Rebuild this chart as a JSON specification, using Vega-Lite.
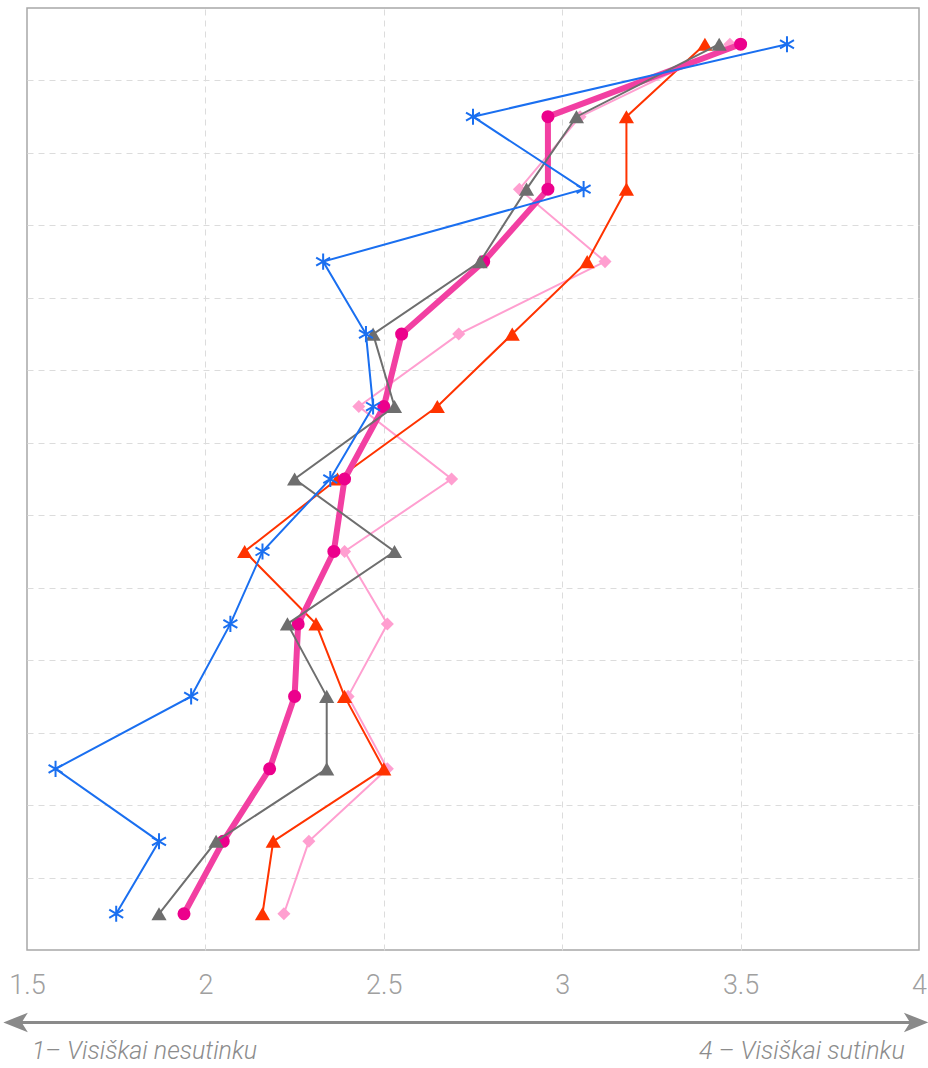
{
  "$schema": "https://vega.github.io/schema/vega-lite/v6.json",
  "width": 892,
  "height": 942,
  "autosize": "none",
  "padding": {"left": 27, "top": 8, "right": 9, "bottom": 118},
  "background": "white",
  "config": {"view": {"stroke": "#a8a8a8", "strokeWidth": 1.5}, "font": "Roboto"},
  "layer": [
    {
      "data": {"values": [
        {"series": "Vidurkis", "item": 1, "value": 3.50},
        {"series": "Vidurkis", "item": 2, "value": 2.96},
        {"series": "Vidurkis", "item": 3, "value": 2.96},
        {"series": "Vidurkis", "item": 4, "value": 2.78},
        {"series": "Vidurkis", "item": 5, "value": 2.55},
        {"series": "Vidurkis", "item": 6, "value": 2.50},
        {"series": "Vidurkis", "item": 7, "value": 2.39},
        {"series": "Vidurkis", "item": 8, "value": 2.36},
        {"series": "Vidurkis", "item": 9, "value": 2.26},
        {"series": "Vidurkis", "item": 10, "value": 2.25},
        {"series": "Vidurkis", "item": 11, "value": 2.18},
        {"series": "Vidurkis", "item": 12, "value": 2.05},
        {"series": "Vidurkis", "item": 13, "value": 1.94},
        {"series": "A", "item": 1, "value": 3.63},
        {"series": "A", "item": 2, "value": 2.75},
        {"series": "A", "item": 3, "value": 3.06},
        {"series": "A", "item": 4, "value": 2.33},
        {"series": "A", "item": 5, "value": 2.45},
        {"series": "A", "item": 6, "value": 2.47},
        {"series": "A", "item": 7, "value": 2.35},
        {"series": "A", "item": 8, "value": 2.16},
        {"series": "A", "item": 9, "value": 2.07},
        {"series": "A", "item": 10, "value": 1.96},
        {"series": "A", "item": 11, "value": 1.58},
        {"series": "A", "item": 12, "value": 1.87},
        {"series": "A", "item": 13, "value": 1.75},
        {"series": "B", "item": 1, "value": 3.44},
        {"series": "B", "item": 2, "value": 3.04},
        {"series": "B", "item": 3, "value": 2.90},
        {"series": "B", "item": 4, "value": 2.77},
        {"series": "B", "item": 5, "value": 2.47},
        {"series": "B", "item": 6, "value": 2.53},
        {"series": "B", "item": 7, "value": 2.25},
        {"series": "B", "item": 8, "value": 2.53},
        {"series": "B", "item": 9, "value": 2.23},
        {"series": "B", "item": 10, "value": 2.34},
        {"series": "B", "item": 11, "value": 2.34},
        {"series": "B", "item": 12, "value": 2.03},
        {"series": "B", "item": 13, "value": 1.87},
        {"series": "C", "item": 1, "value": 3.40},
        {"series": "C", "item": 2, "value": 3.18},
        {"series": "C", "item": 3, "value": 3.18},
        {"series": "C", "item": 4, "value": 3.07},
        {"series": "C", "item": 5, "value": 2.86},
        {"series": "C", "item": 6, "value": 2.65},
        {"series": "C", "item": 7, "value": 2.37},
        {"series": "C", "item": 8, "value": 2.11},
        {"series": "C", "item": 9, "value": 2.31},
        {"series": "C", "item": 10, "value": 2.39},
        {"series": "C", "item": 11, "value": 2.50},
        {"series": "C", "item": 12, "value": 2.19},
        {"series": "C", "item": 13, "value": 2.16},
        {"series": "D", "item": 1, "value": 3.47},
        {"series": "D", "item": 2, "value": 3.05},
        {"series": "D", "item": 3, "value": 2.88},
        {"series": "D", "item": 4, "value": 3.12},
        {"series": "D", "item": 5, "value": 2.71},
        {"series": "D", "item": 6, "value": 2.43},
        {"series": "D", "item": 7, "value": 2.69},
        {"series": "D", "item": 8, "value": 2.39},
        {"series": "D", "item": 9, "value": 2.51},
        {"series": "D", "item": 10, "value": 2.40},
        {"series": "D", "item": 11, "value": 2.51},
        {"series": "D", "item": 12, "value": 2.29},
        {"series": "D", "item": 13, "value": 2.22}
      ]},
      "encoding": {
        "x": {
          "field": "value", "type": "quantitative",
          "scale": {"domain": [1.5, 4], "nice": false, "zero": false},
          "axis": {
            "values": [1.5, 2, 2.5, 3, 3.5, 4], "format": "~g",
            "title": null, "domain": false, "ticks": false,
            "grid": true, "gridDash": [6, 5], "gridColor": "#dcdcdc",
            "gridOpacity": {"condition": {"test": "datum.value == 1.5 || datum.value == 4", "value": 0}, "value": 1},
            "labelPadding": 22, "labelFontSize": 27, "labelColor": "#a0a0a0",
            "labelFont": "Roboto", "labelFontWeight": 300, "labelFlush": false
          }
        },
        "y": {
          "field": "item", "type": "quantitative",
          "scale": {"domain": [0.5, 13.5], "reverse": true, "nice": false, "zero": false},
          "axis": {
            "values": [1.5, 2.5, 3.5, 4.5, 5.5, 6.5, 7.5, 8.5, 9.5, 10.5, 11.5, 12.5],
            "title": null, "labels": false, "ticks": false, "domain": false,
            "grid": true, "gridDash": [6, 5], "gridColor": "#dcdcdc"
          }
        },
        "order": {"field": "item", "type": "quantitative"}
      },
      "layer": [
        {
          "transform": [{"filter": "datum.series == 'D'"}],
          "mark": {"type": "line", "color": "#ff9fd0", "strokeWidth": 2,
                   "point": {"shape": "diamond", "size": 170, "filled": true, "color": "#ff9fd0", "opacity": 1}}
        },
        {
          "transform": [{"filter": "datum.series == 'C'"}],
          "mark": {"type": "line", "color": "#ff3300", "strokeWidth": 2,
                   "point": {"shape": "triangle-up", "size": 230, "filled": true, "color": "#ff3300", "opacity": 1}}
        },
        {
          "transform": [{"filter": "datum.series == 'Vidurkis'"}],
          "mark": {"type": "line", "color": "#f23fa2", "strokeWidth": 6,
                   "point": {"shape": "circle", "size": 170, "filled": true, "color": "#ec008c", "opacity": 1}}
        },
        {
          "transform": [{"filter": "datum.series == 'B'"}],
          "mark": {"type": "line", "color": "#6e6e6e", "strokeWidth": 2,
                   "point": {"shape": "triangle-up", "size": 230, "filled": true, "color": "#6e6e6e", "opacity": 1}}
        },
        {
          "transform": [{"filter": "datum.series == 'A'"}],
          "mark": {"type": "line", "color": "#1a6ff0", "strokeWidth": 2}
        },
        {
          "transform": [{"filter": "datum.series == 'A'"}],
          "mark": {"type": "point", "shape": "M0,-1L0,1M-0.866,-0.5L0.866,0.5M-0.866,0.5L0.866,-0.5",
                   "size": 260, "filled": false, "stroke": "#1a6ff0", "strokeWidth": 2, "opacity": 1}
        }
      ]
    },
    {
      "data": {"values": [{"value": 1.47, "value2": 3.99, "item": 14.5}]},
      "mark": {"type": "rule", "color": "#8a8a8a", "strokeWidth": 3},
      "encoding": {
        "x": {"field": "value", "type": "quantitative", "title": null},
        "x2": {"field": "value2"},
        "y": {"field": "item", "type": "quantitative", "title": null}
      }
    },
    {
      "data": {"values": [{"value": 1.468, "item": 14.5}]},
      "mark": {"type": "point", "shape": "M-1,0L1,-0.8L0.5,0L1,0.8Z", "size": 600, "filled": true, "color": "#8a8a8a", "opacity": 1},
      "encoding": {
        "x": {"field": "value", "type": "quantitative", "title": null},
        "y": {"field": "item", "type": "quantitative", "title": null}
      }
    },
    {
      "data": {"values": [{"value": 3.992, "item": 14.5}]},
      "mark": {"type": "point", "shape": "M1,0L-1,-0.8L-0.5,0L-1,0.8Z", "size": 600, "filled": true, "color": "#8a8a8a", "opacity": 1},
      "encoding": {
        "x": {"field": "value", "type": "quantitative", "title": null},
        "y": {"field": "item", "type": "quantitative", "title": null}
      }
    },
    {
      "data": {"values": [{"value": 1.513, "item": 14.9, "label": "1– Visiškai nesutinku"}]},
      "mark": {"type": "text", "align": "left", "baseline": "middle", "fontSize": 25, "fontStyle": "italic", "fontWeight": 300, "font": "Roboto", "color": "#8c8c8c"},
      "encoding": {
        "x": {"field": "value", "type": "quantitative", "title": null},
        "y": {"field": "item", "type": "quantitative", "title": null},
        "text": {"field": "label"}
      }
    },
    {
      "data": {"values": [{"value": 3.96, "item": 14.9, "label": "4 – Visiškai sutinku"}]},
      "mark": {"type": "text", "align": "right", "baseline": "middle", "fontSize": 25, "fontStyle": "italic", "fontWeight": 300, "font": "Roboto", "color": "#8c8c8c"},
      "encoding": {
        "x": {"field": "value", "type": "quantitative", "title": null},
        "y": {"field": "item", "type": "quantitative", "title": null},
        "text": {"field": "label"}
      }
    }
  ]
}
